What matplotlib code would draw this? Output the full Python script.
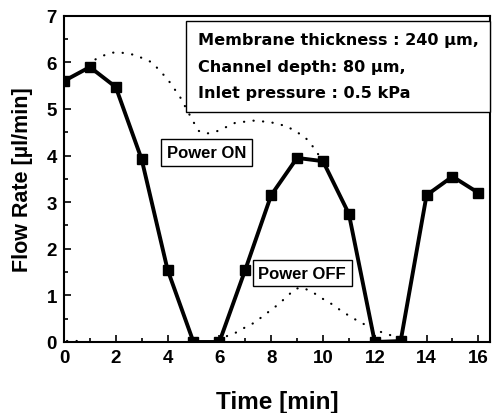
import matplotlib
matplotlib.use("Agg")
import matplotlib.pyplot as plt
from matplotlib.ticker import MultipleLocator

# Measured flow rate
time_min = [0, 1, 2, 3, 4, 5, 6, 7, 8, 9, 10, 11, 12, 13, 14, 15, 16]
flow_rate = [5.6, 5.9, 5.47, 3.92, 1.55, 0.0, 0.0, 1.55, 3.15, 3.95, 3.88, 2.75, 0.0, 0.02, 3.15, 3.55, 3.2]

# Upper dotted envelope (Power ON)
on_t = [1.0, 1.2, 1.74, 2.1, 2.74, 3.4, 4.0, 4.48, 4.98, 5.2, 5.5, 5.95, 6.6, 7.3, 7.95, 8.6, 9.0, 9.3, 9.6, 10.0]
on_y = [5.9, 6.06, 6.2, 6.22, 6.16, 6.0, 5.64, 5.26, 4.74, 4.53, 4.47, 4.53, 4.7, 4.75, 4.72, 4.63, 4.5, 4.4, 4.2, 3.88]

# Lower dotted envelope (Power OFF)
off_t = [6.0, 6.3, 6.6, 6.95, 7.3, 7.6, 8.26, 8.6, 8.92, 9.2, 9.6, 9.95, 10.27, 10.6, 10.9, 11.35, 11.7, 12.3, 12.7, 13.0]
off_y = [0.0, 0.13, 0.19, 0.3, 0.4, 0.52, 0.8, 0.97, 1.14, 1.17, 1.07, 0.94, 0.84, 0.71, 0.6, 0.45, 0.35, 0.2, 0.13, 0.05]

fig = plt.figure(figsize=(4.92, 4.14), dpi=100)
ax = fig.add_axes([0.130, 0.1715, 0.866, 0.788])

dot_style = dict(color="black", linewidth=1.6, linestyle=(0, (0.1, 4.2)), dash_capstyle="round")
ax.plot(on_t, on_y, **dot_style)
ax.plot(off_t, off_y, **dot_style)
ax.plot([0.1, 0.6], [0.03, 0.03], **dot_style)

ax.plot(time_min, flow_rate, color="black", linewidth=2.8, marker="s", markersize=6.5,
        markerfacecolor="black", markeredgecolor="black")

ax.set_xlim(0, 16.45)
ax.set_ylim(0, 7)
ax.xaxis.set_major_locator(MultipleLocator(2))
ax.xaxis.set_minor_locator(MultipleLocator(1))
ax.yaxis.set_major_locator(MultipleLocator(1))
ax.yaxis.set_minor_locator(MultipleLocator(0.5))
ax.tick_params(which="both", direction="in", width=1.2)
ax.tick_params(which="major", length=5, pad=5)
ax.tick_params(which="minor", length=3)
for sp in ax.spines.values():
    sp.set_linewidth(1.5)

tick_font = dict(family="Liberation Sans", weight="bold", size=13.5)
ax.set_xticks(range(0, 17, 2))
ax.set_xticklabels([str(v) for v in range(0, 17, 2)], **tick_font)
ax.set_yticks(range(0, 8))
ax.set_yticklabels([str(v) for v in range(0, 8)], **tick_font)

ax.set_xlabel("Time [min]", family="Liberation Sans", weight="bold", size=17.5, labelpad=17)
ax.set_ylabel("Flow Rate [\u00b5l/min]", family="Liberation Sans", weight="bold", size=15.5, labelpad=10)

ax.text(0.314, 0.845,
        "Membrane thickness : 240 \u00b5m,\nChannel depth: 80 \u00b5m,\nInlet pressure : 0.5 kPa",
        transform=ax.transAxes, ha="left", va="center", multialignment="left",
        family="DejaVu Sans", weight="bold", size=11.6, linespacing=1.95,
        bbox=dict(boxstyle="square,pad=0.7", facecolor="white", edgecolor="black", linewidth=1.0))

ax.text(5.5, 4.06, "Power ON", ha="center", va="center", family="Liberation Sans", weight="bold",
        size=12, bbox=dict(boxstyle="square,pad=0.35", facecolor="white", edgecolor="black", linewidth=1.0))
ax.text(9.2, 1.48, "Power OFF", ha="center", va="center", family="Liberation Sans", weight="bold",
        size=12, bbox=dict(boxstyle="square,pad=0.35", facecolor="white", edgecolor="black", linewidth=1.0))

fig.savefig("out.png", dpi=100)
